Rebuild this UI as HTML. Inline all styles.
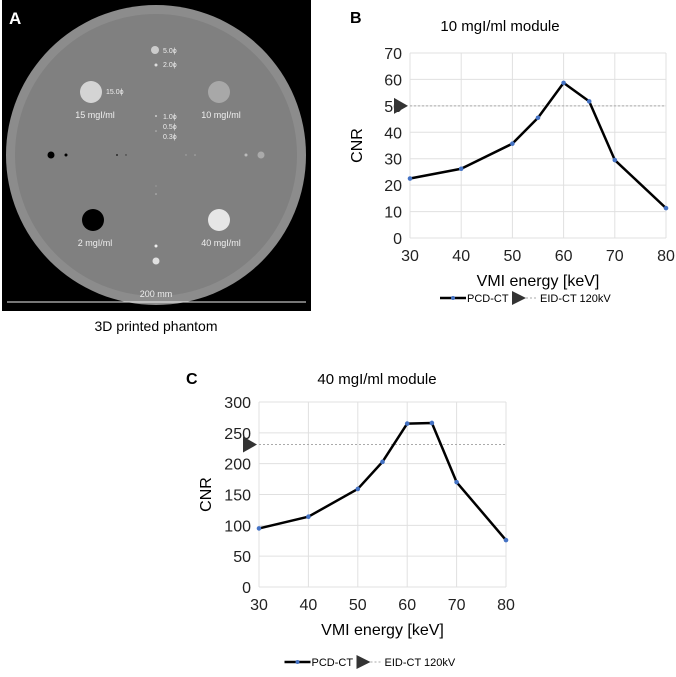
<!DOCTYPE html>
<html><head><meta charset="utf-8"><style>
body{margin:0;background:#fff;width:676px;height:672px;overflow:hidden;font-family:"Liberation Sans",sans-serif}
svg text{font-family:"Liberation Sans",sans-serif}
</style></head><body>
<svg id="root" width="676" height="672" xmlns="http://www.w3.org/2000/svg">
<g>
<rect x="2" y="0" width="309" height="311" fill="#000"/>
<circle cx="156" cy="155" r="150" fill="#8c8c8c"/>
<circle cx="156" cy="155" r="141" fill="#808080"/>
<text x="9" y="24" font-size="17" font-weight="bold" fill="#fff">A</text>
<circle cx="155" cy="50" r="4" fill="#ccc"/>
<circle cx="156" cy="65" r="1.5" fill="#ddd"/>
<g font-size="7" fill="#eee">
<text x="163" y="53">5.0ϕ</text>
<text x="163" y="67">2.0ϕ</text>
<text x="106" y="94">15.0ϕ</text>
<text x="163" y="119">1.0ϕ</text>
<text x="163" y="129">0.5ϕ</text>
<text x="163" y="139">0.3ϕ</text>
</g>
<circle cx="91" cy="92" r="11" fill="#d4d4d4"/>
<circle cx="219" cy="92" r="11" fill="#a8a8a8"/>
<circle cx="93" cy="220" r="11" fill="#000"/>
<circle cx="219" cy="220" r="11" fill="#e6e6e6"/>
<g font-size="9" fill="#eee" text-anchor="middle">
<text x="95" y="118">15 mgI/ml</text>
<text x="221" y="118">10 mgI/ml</text>
<text x="95" y="246">2 mgI/ml</text>
<text x="221" y="246">40 mgI/ml</text>
<text x="156" y="297">200 mm</text>
</g>
<circle cx="156" cy="131" r="0.8" fill="#bbb"/>
<circle cx="156" cy="116" r="1" fill="#ccc"/>
<circle cx="51" cy="155" r="3.5" fill="#000"/><circle cx="66" cy="155" r="1.5" fill="#000"/>
<circle cx="117" cy="155" r="0.9" fill="#111"/><circle cx="126" cy="155" r="0.7" fill="#333"/>
<circle cx="186" cy="155" r="0.7" fill="#aaa"/><circle cx="195" cy="155" r="0.8" fill="#aaa"/>
<circle cx="246" cy="155" r="1.5" fill="#bbb"/><circle cx="261" cy="155" r="3.5" fill="#aaa"/>
<circle cx="156" cy="186" r="0.6" fill="#aaa"/><circle cx="156" cy="194" r="0.8" fill="#bbb"/>
<circle cx="156" cy="246" r="1.5" fill="#eee"/><circle cx="156" cy="261" r="3.5" fill="#e0e0e0"/>
<line x1="7" y1="302" x2="306" y2="302" stroke="#eee" stroke-width="1"/>
<text x="156" y="331" font-size="14" text-anchor="middle" fill="#000">3D printed phantom</text>
</g>
<text x="350" y="23" font-size="16" font-weight="bold">B</text>
<text x="186" y="384" font-size="16" font-weight="bold">C</text>
</svg>
<script>
const xCats=[30,40,50,55,60,65,70,80];
const bValues=[22.5,26.2,35.7,45.5,58.7,51.7,29.5,11.3];
const bRef=50;
const bTicks=[0,10,20,30,40,50,60,70];
const cValues=[95,114,159,203,265,266,170,76];
const cRef=231;
const cTicks=[0,50,100,150,200,250,300];
const xTicks=[30,40,50,60,70,80];
const NS="http://www.w3.org/2000/svg";
const root=document.getElementById('root');
function mk(tag,attrs,parent){const e=document.createElementNS(NS,tag);for(const k in attrs)e.setAttribute(k,attrs[k]);(parent||root).appendChild(e);return e;}
function chart(pre,L,R,T,B,ymax,ticks,vals,ref,title,titleX,titleY,legY){
  const g=mk('g',{});
  
  
  const xs=v=>L+(v-30)/50*(R-L), ys=v=>B-v/ymax*(B-T);
  xTicks.forEach(t=>{const l=mk('line',{x1:xs(t),x2:xs(t),y1:T,y2:B,stroke:'#e0e0e0'},g);
    
    const tx=mk('text',{x:xs(t),y:B+23,'font-size':16,'text-anchor':'middle',fill:'#222'},g);tx.textContent=t;
    });
  ticks.forEach(t=>{const l=mk('line',{x1:L,x2:R,y1:ys(t),y2:ys(t),stroke:'#e0e0e0'},g);
    
    const tx=mk('text',{x:L-8,y:ys(t)+6,'font-size':16,'text-anchor':'end',fill:'#222'},g);tx.textContent=t;
    });
  const rl=mk('line',{x1:L,x2:R,y1:ys(ref),y2:ys(ref),stroke:'#aaa','stroke-dasharray':'2,2'},g);
  
  const tri=mk('polygon',{points:`${L-16},${ys(ref)-8} ${L-16},${ys(ref)+8} ${L-2},${ys(ref)}`,fill:'#333'},g);
  
  const p=mk('polyline',{points:xCats.map((c,i)=>xs(c)+','+ys(vals[i])).join(' '),fill:'none',stroke:'#000','stroke-width':2.5,'stroke-linejoin':'round'},g);
  
  xCats.forEach((c,i)=>{const d=mk('circle',{cx:xs(c),cy:ys(vals[i]),r:2.3,fill:'#4472c4'},g);
    });
  const tt=mk('text',{x:titleX,y:titleY,'font-size':15,'text-anchor':'middle'},g);tt.textContent=title;
  
  const xt=mk('text',{x:(L+R)/2,y:B+48,'font-size':16,'text-anchor':'middle'},g);xt.textContent='VMI energy [keV]';
  
  const yx=L-48,yy=(T+B)/2;
  const yt=mk('text',{x:yx,y:yy,'font-size':16,'text-anchor':'middle',transform:`rotate(-90 ${yx} ${yy})`},g);yt.textContent='CNR';
  
  const cx=(L+R)/2-60;
  const lg=mk('g',{},g);
  mk('line',{x1:cx-38,x2:cx-12,y1:legY,y2:legY,stroke:'#000','stroke-width':2.5},lg);
  mk('circle',{cx:cx-25,cy:legY,r:2,fill:'#4472c4'},lg);
  const l1=mk('text',{x:cx-11,y:legY+4,'font-size':11},lg);l1.textContent='PCD-CT';
  
  mk('polygon',{points:`${cx+34},${legY-7} ${cx+34},${legY+7} ${cx+48},${legY}`,fill:'#333'},lg);
  mk('line',{x1:cx+48,x2:cx+60,y1:legY,y2:legY,stroke:'#aaa','stroke-dasharray':'2,2'},lg);
  const l2=mk('text',{x:cx+62,y:legY+4,'font-size':11},lg);l2.textContent='EID-CT 120kV';
  
}
chart('cnr-10',410,666,53,238,70,bTicks,bValues,bRef,'10 mgI/ml module',500,31,298);
chart('cnr-40',259,506,402,587,300,cTicks,cValues,cRef,'40 mgI/ml module',377,384,662);
</script>
</body></html>
